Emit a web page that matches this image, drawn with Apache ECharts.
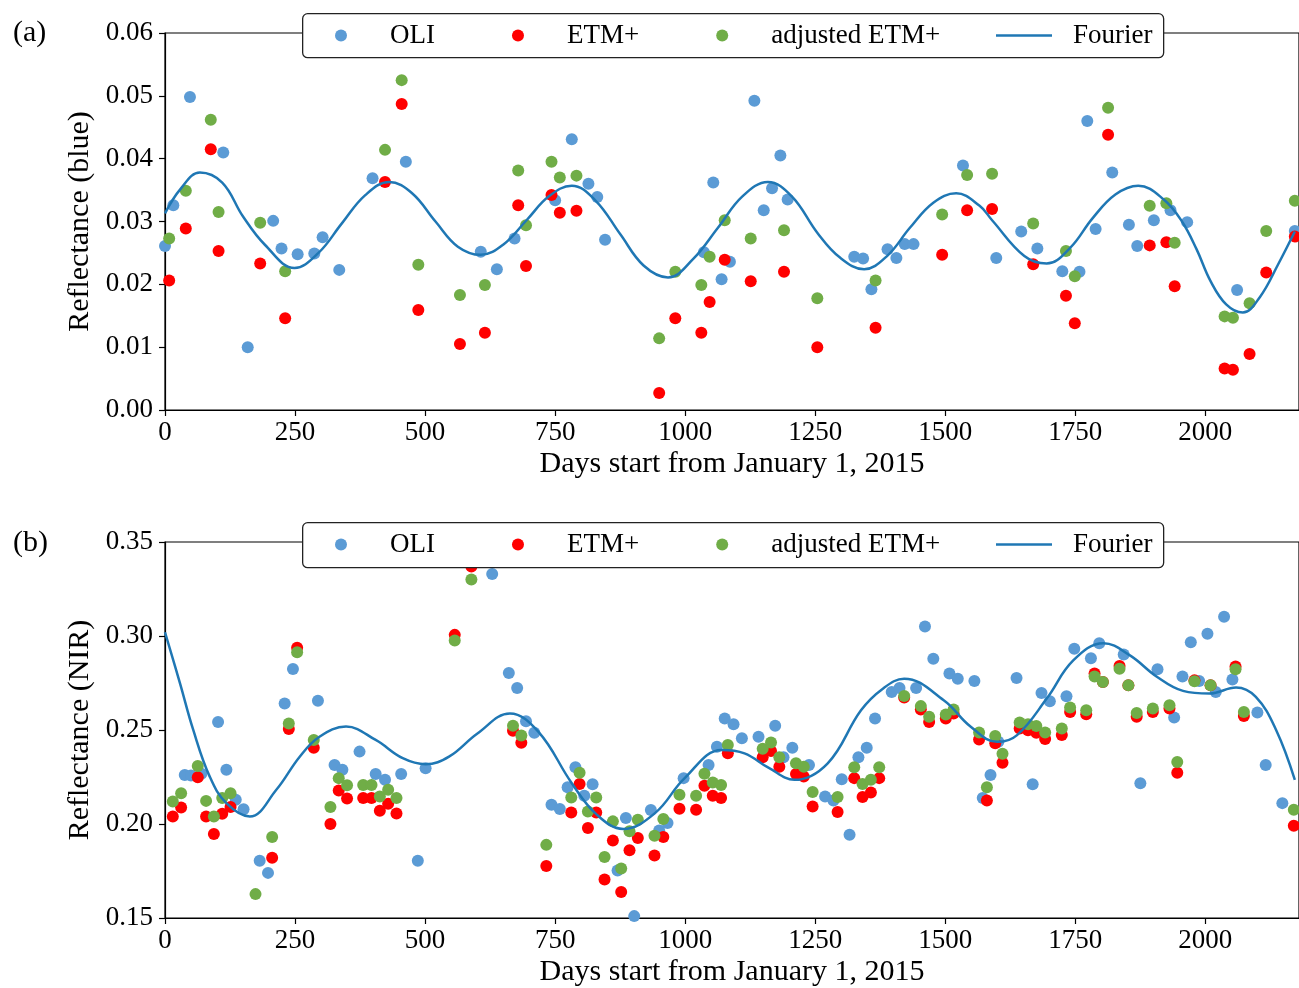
<!DOCTYPE html>
<html>
<head>
<meta charset="utf-8">
<script src="https://cdn.jsdelivr.net/npm/echarts@6/dist/echarts.min.js"></script>
<style>
  html, body { margin: 0; padding: 0; background: #fff; }
  #content { width: 1299px; height: 988px; }
</style>
</head>
<body>
<div id="content"></div>
<script>
// series names (legend order)
var dotNames = ['OLI', 'ETM+', 'adjusted ETM+'];
var lineName = 'Fourier';

// (a) blue band: [day, reflectance]
var aOli = [[0,0.0261],[16,0.0326],[48,0.0498],[112,0.0410],[159,0.0100],[208,0.0301],[224,0.0257],[255,0.0248],[287,0.0249],[303,0.0275],[335,0.0223],[399,0.0369],[463,0.0395],[607,0.0252],[638,0.0224],[672,0.0273],[750,0.0334],[782,0.0431],[814,0.0360],[831,0.0339],[846,0.0271],[1036,0.0251],[1054,0.0362],[1070,0.0208],[1086,0.0236],[1133,0.0492],[1151,0.0318],[1167,0.0353],[1183,0.0405],[1197,0.0335],[1325,0.0244],[1342,0.0241],[1358,0.0192],[1389,0.0256],[1406,0.0242],[1422,0.0264],[1439,0.0264],[1534,0.0389],[1598,0.0242],[1646,0.0284],[1677,0.0257],[1725,0.0221],[1758,0.0220],[1773,0.0460],[1789,0.0288],[1821,0.0378],[1853,0.0295],[1869,0.0261],[1901,0.0302],[1933,0.0318],[1965,0.0299],[2061,0.0191],[2172,0.0285]];
var aEtm = [[8,0.0206],[40,0.0289],[88,0.0415],[103,0.0253],[183,0.0233],[231,0.0146],[423,0.0363],[455,0.0487],[487,0.0159],[567,0.0105],[615,0.0123],[679,0.0326],[694,0.0229],[743,0.0342],[759,0.0314],[791,0.0317],[950,0.0027],[981,0.0146],[1031,0.0123],[1047,0.0172],[1076,0.0239],[1126,0.0205],[1190,0.0220],[1254,0.0100],[1366,0.0131],[1494,0.0247],[1542,0.0318],[1590,0.0320],[1669,0.0232],[1732,0.0182],[1749,0.0138],[1813,0.0438],[1893,0.0262],[1925,0.0267],[1941,0.0197],[2037,0.0066],[2053,0.0064],[2085,0.0089],[2117,0.0219],[2172,0.0276]];
var aAdj = [[8,0.0273],[40,0.0349],[88,0.0462],[103,0.0315],[183,0.0298],[231,0.0221],[423,0.0414],[455,0.0525],[487,0.0231],[567,0.0183],[615,0.0199],[679,0.0381],[694,0.0294],[743,0.0395],[759,0.0370],[791,0.0373],[950,0.0114],[981,0.0220],[1031,0.0199],[1047,0.0244],[1076,0.0302],[1126,0.0273],[1190,0.0286],[1254,0.0178],[1366,0.0206],[1494,0.0311],[1542,0.0374],[1590,0.0376],[1669,0.0297],[1732,0.0253],[1749,0.0213],[1813,0.0481],[1893,0.0325],[1925,0.0329],[1941,0.0266],[2037,0.0149],[2053,0.0147],[2085,0.0170],[2117,0.0285],[2172,0.0333]];
var aFourier = [[0,0.0313],[30,0.0352],[67,0.0378],[110,0.0362],[150,0.0308],[192,0.0263],[249,0.0226],[295,0.0250],[340,0.0297],[385,0.0342],[431,0.0363],[475,0.0345],[520,0.0300],[563,0.0260],[607,0.0247],[650,0.0263],[695,0.0302],[738,0.0340],[782,0.0357],[828,0.0333],[875,0.0280],[920,0.0230],[967,0.0211],[1015,0.0240],[1063,0.0290],[1110,0.0340],[1159,0.0363],[1205,0.0340],[1255,0.0281],[1297,0.0243],[1344,0.0224],[1388,0.0245],[1432,0.0290],[1477,0.0330],[1521,0.0345],[1566,0.0325],[1590,0.0302],[1652,0.0245],[1695,0.0233],[1740,0.0258],[1783,0.0305],[1827,0.0343],[1871,0.0357],[1920,0.0335],[1955,0.0300],[1983,0.0256],[2010,0.0205],[2040,0.0168],[2072,0.0155],[2105,0.0180],[2140,0.0232],[2172,0.0284]];

// (b) NIR band
var bOli = [[38,0.2261],[50,0.2258],[70,0.2267],[102,0.2543],[118,0.2288],[136,0.2129],[151,0.2079],[182,0.1804],[198,0.1740],[230,0.2641],[246,0.2824],[294,0.2655],[326,0.2314],[341,0.2288],[374,0.2385],[405,0.2266],[423,0.2235],[454,0.2266],[486,0.1804],[501,0.2297],[629,0.3330],[661,0.2803],[677,0.2724],[694,0.2547],[710,0.2485],[743,0.2103],[759,0.2080],[774,0.2196],[789,0.2302],[806,0.2150],[822,0.2212],[870,0.1753],[886,0.2032],[902,0.1510],[934,0.2074],[950,0.1966],[966,0.2005],[997,0.2244],[1045,0.2314],[1061,0.2411],[1076,0.2561],[1093,0.2530],[1109,0.2456],[1141,0.2464],[1173,0.2522],[1189,0.2355],[1206,0.2406],[1238,0.2314],[1269,0.2146],[1285,0.2125],[1301,0.2238],[1316,0.1943],[1333,0.2355],[1349,0.2406],[1365,0.2561],[1397,0.2702],[1412,0.2724],[1444,0.2724],[1461,0.3050],[1477,0.2879],[1508,0.2800],[1524,0.2773],[1556,0.2761],[1572,0.2138],[1587,0.2261],[1602,0.2437],[1637,0.2777],[1668,0.2212],[1685,0.2697],[1701,0.2653],[1733,0.2680],[1748,0.2932],[1780,0.2882],[1796,0.2962],[1843,0.2902],[1875,0.2217],[1908,0.2823],[1940,0.2567],[1956,0.2785],[1972,0.2967],[1988,0.2761],[2004,0.3012],[2020,0.2702],[2036,0.3103],[2052,0.2768],[2100,0.2593],[2116,0.2314],[2148,0.2111]];
var bEtm = [[15,0.2040],[31,0.2088],[63,0.2249],[79,0.2040],[94,0.1947],[110,0.2055],[126,0.2090],[174,0.1490],[206,0.1820],[238,0.2505],[254,0.2937],[286,0.2406],[318,0.2000],[334,0.2178],[350,0.2136],[381,0.2138],[397,0.2138],[413,0.2071],[429,0.2108],[445,0.2056],[557,0.3006],[589,0.3370],[669,0.2496],[685,0.2432],[733,0.1776],[781,0.2061],[797,0.2213],[813,0.1979],[829,0.2061],[845,0.1705],[861,0.1912],[877,0.1638],[893,0.1860],[909,0.1926],[941,0.1832],[958,0.1931],[989,0.2081],[1021,0.2076],[1037,0.2203],[1053,0.2150],[1069,0.2138],[1082,0.2376],[1149,0.2355],[1165,0.2388],[1181,0.2305],[1213,0.2266],[1228,0.2252],[1245,0.2093],[1293,0.2064],[1325,0.2244],[1341,0.2143],[1357,0.2168],[1373,0.2244],[1421,0.2673],[1453,0.2609],[1469,0.2543],[1501,0.2561],[1516,0.2588],[1565,0.2450],[1580,0.2125],[1596,0.2429],[1610,0.2326],[1643,0.2508],[1659,0.2499],[1675,0.2485],[1692,0.2452],[1724,0.2473],[1740,0.2596],[1771,0.2584],[1787,0.2800],[1803,0.2755],[1835,0.2840],[1852,0.2738],[1868,0.2570],[1899,0.2596],[1931,0.2614],[1946,0.2273],[1979,0.2764],[2010,0.2738],[2058,0.2838],[2074,0.2575],[2170,0.1991]];
var bAdj = [[15,0.2120],[31,0.2164],[63,0.2309],[79,0.2123],[94,0.2040],[110,0.2138],[126,0.2164],[174,0.1627],[206,0.1931],[238,0.2535],[254,0.2914],[286,0.2447],[318,0.2090],[334,0.2244],[350,0.2206],[381,0.2208],[397,0.2208],[413,0.2146],[429,0.2182],[445,0.2138],[557,0.2976],[589,0.3301],[669,0.2522],[685,0.2471],[733,0.1889],[781,0.2141],[797,0.2273],[813,0.2067],[829,0.2141],[845,0.1825],[861,0.2014],[877,0.1763],[893,0.1961],[909,0.2023],[941,0.1938],[958,0.2027],[989,0.2155],[1021,0.2150],[1037,0.2267],[1053,0.2221],[1069,0.2208],[1082,0.2420],[1149,0.2400],[1165,0.2434],[1181,0.2355],[1213,0.2323],[1228,0.2305],[1245,0.2170],[1293,0.2143],[1325,0.2302],[1341,0.2213],[1357,0.2235],[1373,0.2302],[1421,0.2681],[1453,0.2627],[1469,0.2570],[1501,0.2582],[1516,0.2609],[1565,0.2487],[1580,0.2196],[1596,0.2468],[1610,0.2374],[1643,0.2540],[1659,0.2531],[1675,0.2521],[1692,0.2487],[1724,0.2508],[1740,0.2620],[1771,0.2605],[1787,0.2785],[1803,0.2755],[1835,0.2826],[1852,0.2738],[1868,0.2591],[1899,0.2614],[1931,0.2632],[1946,0.2330],[1979,0.2759],[2010,0.2738],[2058,0.2823],[2074,0.2596],[2170,0.2076]];
var bFourier = [[0,0.3020],[29,0.2747],[54,0.2503],[86,0.2252],[118,0.2111],[163,0.2040],[214,0.2182],[259,0.2358],[297,0.2464],[348,0.2518],[405,0.2447],[457,0.2350],[501,0.2318],[546,0.2358],[600,0.2480],[663,0.2588],[718,0.2490],[782,0.2217],[830,0.2050],[881,0.1974],[942,0.2058],[999,0.2244],[1070,0.2394],[1114,0.2376],[1160,0.2300],[1210,0.2235],[1274,0.2323],[1338,0.2605],[1380,0.2720],[1421,0.2773],[1497,0.2658],[1549,0.2517],[1600,0.2437],[1638,0.2473],[1695,0.2667],[1746,0.2870],[1804,0.2962],[1855,0.2897],[1906,0.2785],[1957,0.2708],[2008,0.2694],[2059,0.2726],[2097,0.2676],[2136,0.2500],[2172,0.2235]];

var colors = ['#5b9bd5', '#ff0000', '#70ad47', '#1f77b4'];
var font = 'Liberation Serif';

var myChart = echarts.init(document.getElementById('content'));

function xAxisFor(i) {
    return {
        type: 'value', gridIndex: i, min: 0, max: 2180, interval: 250,
        name: 'Days start from January 1, 2015', nameLocation: 'middle', nameGap: 39,
        nameTextStyle: { fontFamily: font, fontSize: 30, color: '#000' },
        axisLine: { lineStyle: { color: '#000', width: 1.2 } },
        axisTick: { length: 6, lineStyle: { color: '#000', width: 1.2 } },
        axisLabel: { fontFamily: font, fontSize: 27, color: '#000', margin: 9, showMaxLabel: false,
            formatter: function (v) { return String(v); } },
        splitLine: { show: false }
    };
}
function yAxisFor(i, name, min, max, step) {
    return {
        type: 'value', gridIndex: i, min: min, max: max, interval: step,
        name: name, nameLocation: 'middle', nameGap: 68,
        nameTextStyle: { fontFamily: font, fontSize: 30, color: '#000' },
        axisLine: { show: true, lineStyle: { color: '#000', width: 1.2 } },
        axisTick: { show: true, length: 6, lineStyle: { color: '#000', width: 1.2 } },
        axisLabel: { fontFamily: font, fontSize: 27, color: '#000', margin: 12,
            formatter: function (v) { return v.toFixed(2); } },
        splitLine: { show: false }
    };
}
// dots legend and line legend side by side inside one framed box
function dotLegend(top) {
    return {
        data: dotNames.map(function (n) { return { name: n, icon: 'circle' }; }),
        left: 335, top: top, padding: 0, itemGap: 77, itemWidth: 12, itemHeight: 12,
        textStyle: { fontFamily: font, fontSize: 27, color: '#000', padding: [0, 0, 0, 38] },
        selectedMode: false
    };
}
function lineLegend(top) {
    return {
        data: [{ name: lineName, icon: 'rect' }],
        left: 996, top: top, padding: 0, itemWidth: 56, itemHeight: 2.5,
        textStyle: { fontFamily: font, fontSize: 27, color: '#000', padding: [0, 0, 0, 16] },
        selectedMode: false
    };
}
function legendBox(y, h) {
    return {
        type: 'rect', left: 302, top: y, z: 4, z2: -10,
        shape: { width: 861, height: h, r: 5 },
        style: { fill: '#fff', stroke: '#222', lineWidth: 1.3 }
    };
}
function scatter(name, idx, data, color) {
    return {
        name: name, type: 'scatter', xAxisIndex: idx, yAxisIndex: idx, data: data,
        symbolSize: 12, itemStyle: { color: color, opacity: 1 }, z: 2
    };
}
function curve(idx, data) {
    return {
        name: lineName, type: 'line', xAxisIndex: idx, yAxisIndex: idx, data: data,
        smooth: 0.4, symbol: 'none', lineStyle: { color: colors[3], width: 2.5 },
        itemStyle: { color: colors[3] }, z: 3
    };
}

myChart.setOption({
    animation: false,
    title: [
        { text: '(a)', left: 8, top: 13, textStyle: { fontFamily: font, fontSize: 30, fontWeight: 'normal', color: '#000' } },
        { text: '(b)', left: 8, top: 523, textStyle: { fontFamily: font, fontSize: 30, fontWeight: 'normal', color: '#000' } }
    ],
    graphic: [legendBox(13, 44), legendBox(522, 45)],
    legend: [dotLegend(22), lineLegend(22), dotLegend(531), lineLegend(531)],
    grid: [
        { left: 165, top: 33, width: 1138, height: 377, show: true, borderColor: '#000', borderWidth: 1.2, backgroundColor: 'transparent' },
        { left: 165, top: 542, width: 1138, height: 377, show: true, borderColor: '#000', borderWidth: 1.2, backgroundColor: 'transparent' }
    ],
    xAxis: [xAxisFor(0), xAxisFor(1)],
    yAxis: [
        yAxisFor(0, 'Reflectance (blue)', 0, 0.06, 0.01),
        yAxisFor(1, 'Reflectance (NIR)', 0.15, 0.35, 0.05)
    ],
    series: [
        scatter('OLI', 0, aOli, colors[0]),
        scatter('ETM+', 0, aEtm, colors[1]),
        scatter('adjusted ETM+', 0, aAdj, colors[2]),
        curve(0, aFourier),
        scatter('OLI', 1, bOli, colors[0]),
        scatter('ETM+', 1, bEtm, colors[1]),
        scatter('adjusted ETM+', 1, bAdj, colors[2]),
        curve(1, bFourier)
    ]
});
</script>
</body>
</html>
